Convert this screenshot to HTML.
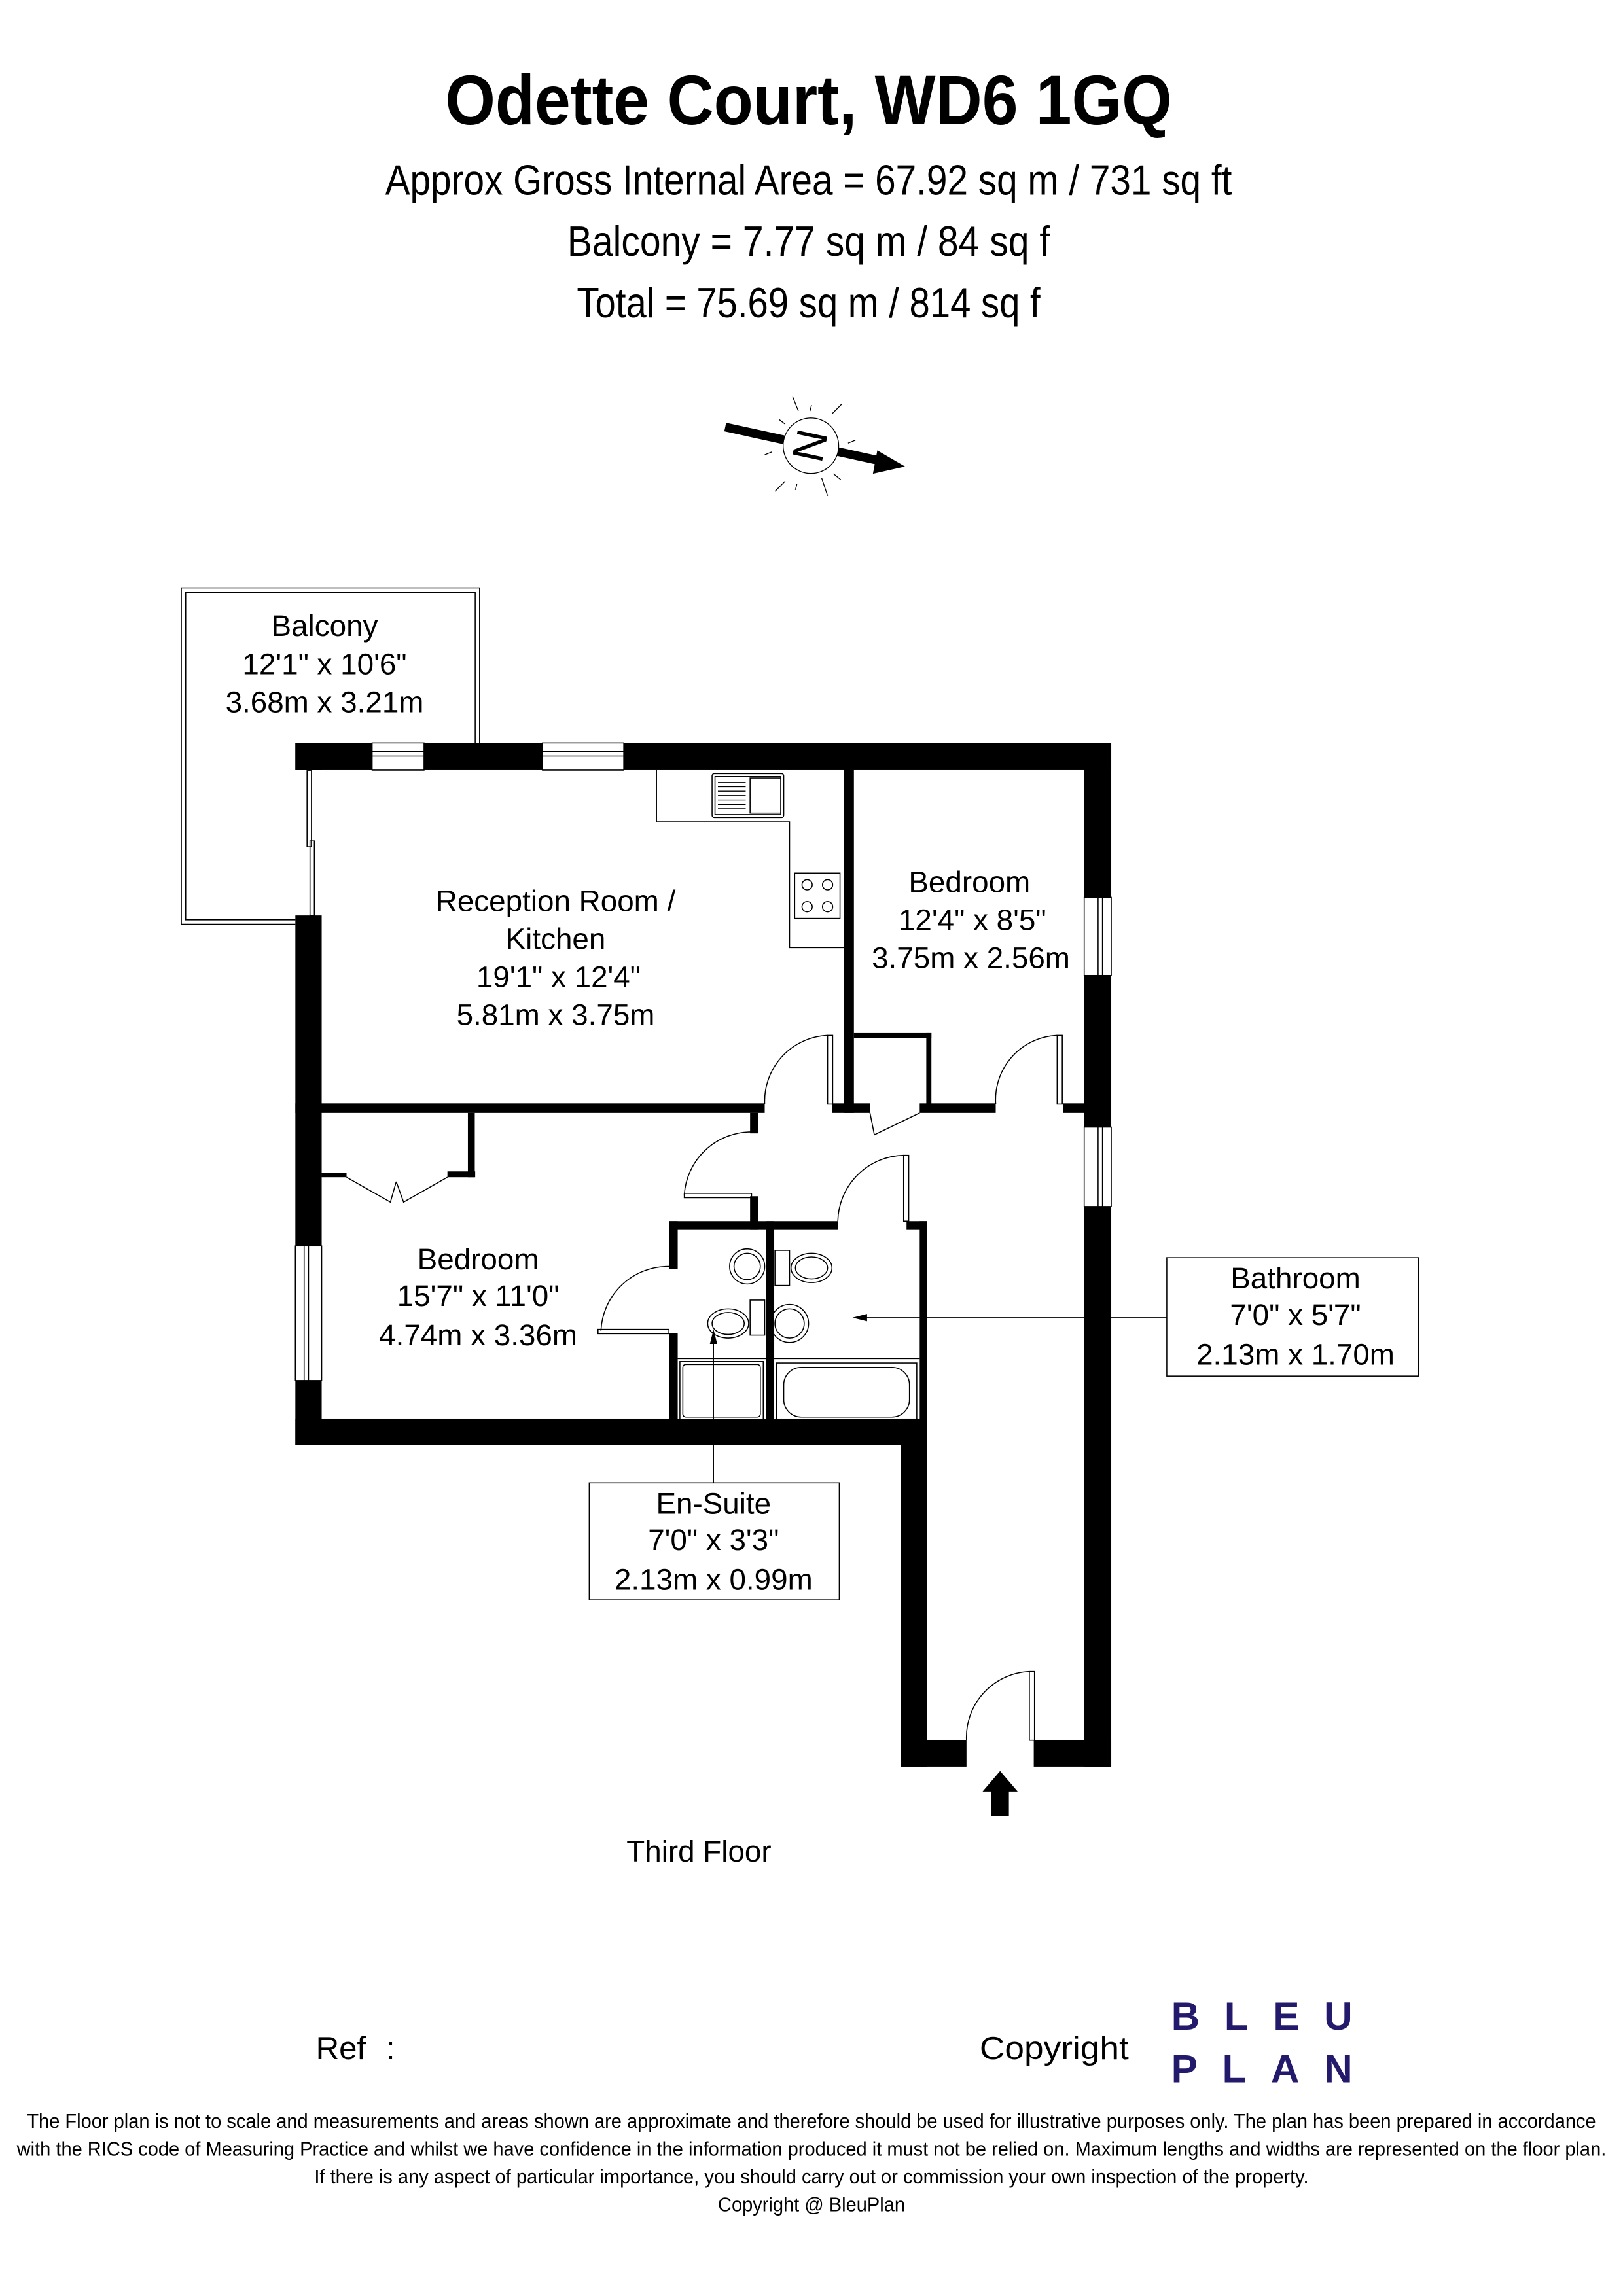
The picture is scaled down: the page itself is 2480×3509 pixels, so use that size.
<!DOCTYPE html>
<html><head><meta charset="utf-8"><style>
html,body{margin:0;padding:0;background:#fff}
svg{display:block}
text{font-family:"Liberation Sans",Arial,sans-serif;fill:#000}
.n{font-family:"Liberation Sans Narrow","Liberation Sans",sans-serif}
</style></head><body>
<svg width="2480" height="3509" viewBox="0 0 1110 1570" preserveAspectRatio="none" xmlns="http://www.w3.org/2000/svg">
<rect width="1110" height="1570" fill="#fff"/>
<!-- header -->
<text class="n" x="553" y="85" font-size="48" font-weight="bold" text-anchor="middle" textLength="497" lengthAdjust="spacingAndGlyphs">Odette Court, WD6 1GQ</text>
<text class="n" x="553" y="133" font-size="29" text-anchor="middle" textLength="579" lengthAdjust="spacingAndGlyphs">Approx Gross Internal Area = 67.92 sq m /  731 sq ft</text>
<text class="n" x="553" y="175" font-size="29" text-anchor="middle" textLength="330" lengthAdjust="spacingAndGlyphs">Balcony =  7.77 sq m / 84 sq f</text>
<text class="n" x="553" y="217" font-size="29" text-anchor="middle" textLength="317" lengthAdjust="spacingAndGlyphs">Total = 75.69 sq m / 814 sq f</text>
<!-- compass -->
<g stroke="#000" stroke-width="0.6">
<line x1="542" y1="271" x2="546" y2="281"/><line x1="576" y1="276" x2="569" y2="283"/><line x1="585" y1="301" x2="580" y2="303"/>
<line x1="575" y1="328" x2="570" y2="324"/><line x1="566" y1="339" x2="562" y2="327"/><line x1="530" y1="336" x2="537" y2="329"/>
<line x1="523" y1="311" x2="528" y2="309"/><line x1="533" y1="287" x2="537" y2="290"/><line x1="555" y1="277" x2="554" y2="281"/><line x1="544" y1="335" x2="545" y2="331"/>
</g>
<line x1="496" y1="292" x2="606" y2="316" stroke="#000" stroke-width="6"/>
<polygon points="619,319 600,308 597,324" fill="#000"/>
<circle cx="554.6" cy="304.8" r="19" fill="#fff" stroke="#000" stroke-width="0.6"/>
<text x="0" y="0" font-size="30" text-anchor="middle" transform="translate(554.6,304.8) rotate(102) translate(0,11)">N</text>
<!-- balcony -->
<g fill="none" stroke="#000" stroke-width="0.7">
<path d="M202,632 L124,632 L124,402 L328,402 L328,508"/>
<path d="M202,629 L127,629 L127,405 L325,405 L325,508"/>
</g>
<text x="222" y="435" font-size="20.5" text-anchor="middle">Balcony</text>
<text x="222" y="461" font-size="20.5" text-anchor="middle">12'1" x 10'6"</text>
<text x="222" y="487" font-size="20.5" text-anchor="middle">3.68m x 3.21m</text>
<!-- walls -->
<g fill="#000">
<rect x="202" y="508" width="558" height="18.6"/>
<rect x="202" y="508" width="18" height="18.6"/>
<rect x="202" y="626" width="18" height="362"/>
<rect x="202" y="970" width="432" height="18"/>
<rect x="741.5" y="508" width="18.5" height="700"/>
<rect x="616" y="970" width="18" height="238"/>
<rect x="616" y="1190" width="45" height="18"/>
<rect x="707" y="1190" width="53" height="18"/>
<rect x="577" y="526" width="7" height="235"/>
<rect x="202" y="754.5" width="321" height="6.5"/>
<rect x="569" y="754.5" width="26" height="6.5"/>
<rect x="629" y="754.5" width="52" height="6.5"/>
<rect x="727" y="754.5" width="15" height="6.5"/>
<rect x="584" y="706" width="53" height="4"/>
<rect x="633.5" y="706" width="3.5" height="52"/>
<rect x="320" y="761" width="4.7" height="44"/>
<rect x="306" y="801" width="19" height="4"/>
<rect x="220" y="802" width="17" height="3"/>
<rect x="513" y="761" width="5.3" height="14"/>
<rect x="513" y="818" width="5.3" height="23"/>
<rect x="457.5" y="835" width="115.5" height="6"/>
<rect x="620" y="835" width="14" height="6"/>
<rect x="629" y="835" width="5" height="140"/>
<rect x="457.5" y="835" width="6" height="33"/>
<rect x="457.5" y="911.5" width="6" height="60"/>
<rect x="524" y="835" width="5.5" height="137"/>
</g>
<!-- windows -->
<g fill="#fff" stroke="#000" stroke-width="0.7">
<rect x="254.5" y="508" width="35.5" height="18.6"/><rect x="371" y="508" width="55.6" height="18.6"/>
<rect x="741.5" y="613.6" width="18.5" height="53.4"/><rect x="741.5" y="770.7" width="18.5" height="54.3"/>
<rect x="202" y="852" width="18" height="92"/>
</g>
<g stroke="#000" stroke-width="0.7">
<line x1="254.5" y1="514" x2="290" y2="514"/><line x1="254.5" y1="517" x2="290" y2="517"/>
<line x1="371" y1="514" x2="426.6" y2="514"/><line x1="371" y1="517" x2="426.6" y2="517"/>
<line x1="751" y1="613.6" x2="751" y2="667"/><line x1="754" y1="613.6" x2="754" y2="667"/>
<line x1="751" y1="770.7" x2="751" y2="825"/><line x1="754" y1="770.7" x2="754" y2="825"/>
<line x1="208" y1="852" x2="208" y2="944"/><line x1="211" y1="852" x2="211" y2="944"/>
</g>
<!-- sliding door to balcony -->
<g fill="none" stroke="#000" stroke-width="0.7">
<rect x="210" y="527" width="3" height="52"/><rect x="212" y="575" width="3" height="51"/>
</g>
<!-- kitchen -->
<g fill="none" stroke="#000" stroke-width="0.7">
<polyline points="449,526.6 449,562 540,562 540,648 577,648"/>
<rect x="487" y="529" width="49" height="30" rx="1.5"/>
<rect x="489" y="531" width="45" height="26"/>
<rect x="513" y="532" width="21" height="24"/>
<rect x="543.5" y="597" width="31" height="31"/>
<circle cx="552" cy="605" r="3.5"/><circle cx="566" cy="605" r="3.5"/><circle cx="552" cy="620" r="3.5"/><circle cx="566" cy="620" r="3.5"/>
</g>
<g stroke="#000" stroke-width="0.6">
<line x1="491" y1="535" x2="510" y2="535"/><line x1="491" y1="538" x2="510" y2="538"/><line x1="491" y1="541" x2="510" y2="541"/><line x1="491" y1="544" x2="510" y2="544"/><line x1="491" y1="547" x2="510" y2="547"/><line x1="491" y1="550" x2="510" y2="550"/><line x1="491" y1="553" x2="510" y2="553"/>
</g>
<!-- doors -->
<g fill="none" stroke="#000" stroke-width="0.7">
<rect x="566" y="708" width="3.5" height="47"/><path d="M566,708 A45,45 0 0 0 523,755"/>
<rect x="723" y="708" width="3.5" height="47"/><path d="M723,708 A44,44 0 0 0 681,755"/>
<path d="M629,761 L598,776 L595,761"/>
<path d="M468,816 L514,816 L514,819 L468,819 Z"/><path d="M468,817 A46,46 0 0 1 514,774"/>
<rect x="618" y="790" width="3.5" height="45"/><path d="M618,790 A46,46 0 0 0 573,835"/>
<rect x="409" y="909" width="48.5" height="3"/><path d="M411,910 A46,46 0 0 1 457.5,866"/>
<rect x="704" y="1143" width="3.5" height="47"/><path d="M704,1143 A45,45 0 0 0 661,1190"/>
<polyline points="237,805 267,822 271,808"/><polyline points="306,805 276,822 271,808"/>
</g>
<!-- entry arrow -->
<polygon points="672,1225 684,1211 696,1225 690,1225 690,1242 678,1242 678,1225" fill="#000"/>
<!-- sanitary -->
<g fill="none" stroke="#000" stroke-width="0.7">
<circle cx="511" cy="866" r="12"/><circle cx="511" cy="866" r="9"/>
<rect x="513" y="889" width="10" height="24"/><ellipse cx="498" cy="905" rx="14" ry="10"/><ellipse cx="498" cy="905" rx="11" ry="7.5"/>
<rect x="465" y="931" width="57" height="40"/><rect x="467" y="933" width="53" height="36" rx="2"/>
<rect x="530" y="855" width="10" height="24"/><ellipse cx="555" cy="867" rx="14" ry="10"/><ellipse cx="555" cy="867" rx="11" ry="7.5"/>
<circle cx="540" cy="905" r="13"/><circle cx="540" cy="905" r="10"/>
<rect x="531" y="932" width="96" height="40"/><rect x="536" y="935" width="86" height="34" rx="12"/>
<line x1="529.5" y1="929" x2="629" y2="929"/><line x1="463.5" y1="929" x2="524" y2="929"/>
</g>
<!-- room labels -->
<g font-size="20.5" text-anchor="middle">
<text x="380" y="623">Reception Room /</text><text x="380" y="649">Kitchen</text>
<text x="382" y="675">19'1" x 12'4"</text><text x="380" y="701">5.81m x 3.75m</text>
<text x="663" y="610">Bedroom</text><text x="665" y="636">12'4" x 8'5"</text><text x="664" y="662">3.75m x 2.56m</text>
<text x="327" y="868">Bedroom</text><text x="327" y="893">15'7" x 11'0"</text><text x="327" y="920">4.74m x 3.36m</text>
<text x="478" y="1273">Third Floor</text>
</g>
<!-- label boxes -->
<rect x="798" y="860" width="172" height="81" fill="#fff" stroke="#000" stroke-width="0.7"/>
<line x1="798" y1="901" x2="590" y2="901" stroke="#000" stroke-width="0.6"/>
<polygon points="583,901 593,898.5 593,903.5" fill="#000"/>
<g font-size="20.5" text-anchor="middle">
<text x="886" y="881">Bathroom</text><text x="886" y="906">7'0" x 5'7"</text><text x="886" y="933">2.13m x 1.70m</text>
</g>
<rect x="403" y="1014" width="171" height="80" fill="#fff" stroke="#000" stroke-width="0.7"/>
<line x1="488" y1="1014" x2="488" y2="916" stroke="#000" stroke-width="0.6"/>
<polygon points="488,909 485.5,919 490.5,919" fill="#000"/>
<g font-size="20.5" text-anchor="middle">
<text x="488" y="1035">En-Suite</text><text x="488" y="1060">7'0" x 3'3"</text><text x="488" y="1087">2.13m x 0.99m</text>
</g>
<!-- footer -->
<text x="216" y="1408" font-size="22">Ref</text><text x="264" y="1408" font-size="22">:</text>
<text x="670" y="1408" font-size="22" textLength="102" lengthAdjust="spacingAndGlyphs">Copyright</text>
<g fill="#231a6c" font-weight="bold" font-size="27" style="fill:#231a6c">
<text x="801" y="1388" style="fill:#231a6c" textLength="124" lengthAdjust="spacing">BLEU</text>
<text x="801" y="1424" style="fill:#231a6c" textLength="124" lengthAdjust="spacing">PLAN</text>
</g>
<g class="n" font-size="13.5" text-anchor="middle">
<text class="n" x="555" y="1455" textLength="1073" lengthAdjust="spacingAndGlyphs">The Floor plan is not to scale and measurements and areas shown are approximate and therefore should be used for illustrative purposes only. The plan has been prepared in accordance</text>
<text class="n" x="555" y="1474" textLength="1087" lengthAdjust="spacingAndGlyphs">with the RICS code of Measuring Practice and whilst we have confidence in the information produced it must not be relied on. Maximum lengths and widths are represented on the floor plan.</text>
<text class="n" x="555" y="1493" textLength="680" lengthAdjust="spacingAndGlyphs">If there is any aspect of particular importance, you should carry out or commission your own inspection of the property.</text>
<text class="n" x="555" y="1512" textLength="128" lengthAdjust="spacingAndGlyphs">Copyright @ BleuPlan</text>
</g>
</svg>
</body></html>
